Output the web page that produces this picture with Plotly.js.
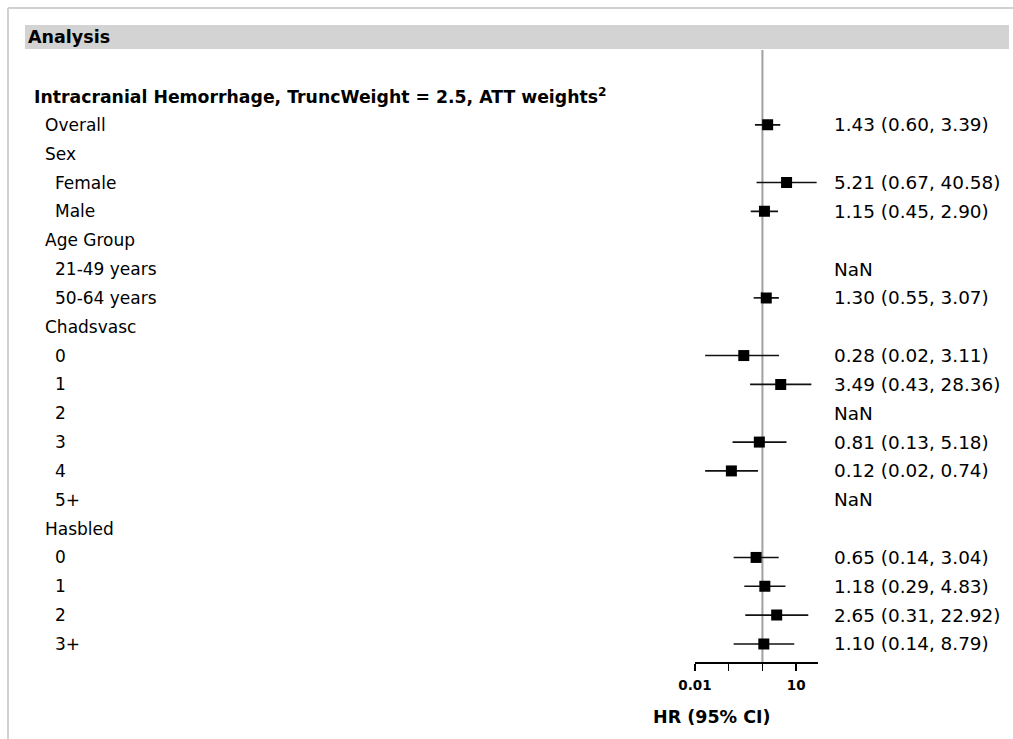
<!DOCTYPE html>
<html>
<head>
<meta charset="utf-8">
<script src="https://cdn.plot.ly/plotly-3.0.1.min.js"></script>
<style>html,body{margin:0;padding:0;background:#fff;}</style>
</head>
<body>
<div id="chart" style="width:1013px;height:739px;"></div>
<script>
// ---- data ----
const rowLabels = [
  "Intracranial Hemorrhage, TruncWeight = 2.5, ATT weights<sup>2</sup>",
  "Overall", "Sex", "Female", "Male",
  "Age Group", "21-49 years", "50-64 years",
  "Chadsvasc", "0", "1", "2", "3", "4", "5+",
  "Hasbled", "0", "1", "2", "3+"
];
const rowLevel = [0, 1, 1, 2, 2, 1, 2, 2, 1, 2, 2, 2, 2, 2, 2, 1, 2, 2, 2, 2];
const hr    = [null, 1.43, null, 5.21, 1.15, null, null, 1.30, null, 0.28, 3.49, null, 0.81, 0.12, null, null, 0.65, 1.18, 2.65, 1.10];
const lower = [null, 0.60, null, 0.67, 0.45, null, null, 0.55, null, 0.02, 0.43, null, 0.13, 0.02, null, null, 0.14, 0.29, 0.31, 0.14];
const upper = [null, 3.39, null, 40.58, 2.90, null, null, 3.07, null, 3.11, 28.36, null, 5.18, 0.74, null, null, 3.04, 4.83, 22.92, 8.79];
const estText = ["", "1.43 (0.60, 3.39)", "", "5.21 (0.67, 40.58)", "1.15 (0.45, 2.90)", "", "NaN", "1.30 (0.55, 3.07)", "",
  "0.28 (0.02, 3.11)", "3.49 (0.43, 28.36)", "NaN", "0.81 (0.13, 5.18)", "0.12 (0.02, 0.74)", "NaN", "",
  "0.65 (0.14, 3.04)", "1.18 (0.29, 4.83)", "2.65 (0.31, 22.92)", "1.10 (0.14, 8.79)"];
const labelTicks = [0.01, 10];
const labelTickText = ["0.01", "10"];
const minorTicks = [0.1, 1];

// ---- layout helpers (pixels) ----
const W = 1013, H = 739;
const px = x => x / W;
const py = y => 1 - y / H;
const FONT = "DejaVu Sans";

const rows = rowLabels.map((_, i) => i);
const plotRows = rows.filter(i => hr[i] !== null);

const trace = {
  type: "scatter",
  mode: "markers",
  x: plotRows.map(i => hr[i]),
  y: plotRows.map(i => i),
  marker: {symbol: "square", size: 11, color: "#000"},
  error_x: {
    type: "data", symmetric: false,
    array: plotRows.map(i => upper[i] - hr[i]),
    arrayminus: plotRows.map(i => hr[i] - lower[i]),
    color: "#111", thickness: 1.6, width: 0
  },
  hoverinfo: "skip",
  showlegend: false
};

const labelX = [32, 43, 53];
const annotations = [];
rows.forEach(i => {
  annotations.push({
    xref: "paper", yref: "y", x: px(labelX[rowLevel[i]]), y: i,
    xanchor: "left", yanchor: "middle", showarrow: false,
    text: rowLevel[i] === 0 ? "<b>" + rowLabels[i] + "</b>" : rowLabels[i],
    font: {family: FONT, size: rowLevel[i] === 0 ? 17.3 : 17, color: "#000"}
  });
  if (estText[i]) {
    annotations.push({
      xref: "paper", yref: "y", x: px(832), y: i,
      xanchor: "left", yanchor: "middle", showarrow: false,
      text: estText[i],
      font: {family: FONT, size: 18.4, color: "#000"}
    });
  }
});
annotations.push({
  xref: "paper", yref: "paper", x: px(26), y: py(37),
  xanchor: "left", yanchor: "middle", showarrow: false,
  text: "<b>Analysis</b>", font: {family: FONT, size: 17.5, color: "#000"}
});
annotations.push({
  xref: "paper", yref: "paper", x: px(712), y: py(717),
  xanchor: "center", yanchor: "middle", showarrow: false,
  text: "<b>HR (95% CI)</b>", font: {family: FONT, size: 17.5, color: "#000"}
});

const yTop = 50, yBot = 662;
const rowY0 = 96, rowStep = 28.84;
const layout = {
  width: W, height: H,
  margin: {l: 0, r: 0, t: 0, b: 0},
  paper_bgcolor: "#fff", plot_bgcolor: "rgba(0,0,0,0)",
  xaxis: {
    type: "log", range: [-2, 1.64],
    domain: [px(695), px(817.7)],
    tickvals: labelTicks, ticktext: labelTickText,
    ticks: "outside", ticklen: 7, tickwidth: 1.5, tickcolor: "#000",
    ticklabelstandoff: 3,
    minor: {tickvals: minorTicks, ticks: "outside", ticklen: 7, tickwidth: 1.5, tickcolor: "#000", showgrid: false},
    showline: true, linecolor: "#000", linewidth: 2,
    showgrid: false, zeroline: false,
    tickfont: {family: FONT, size: 13.5, color: "#000", weight: "bold"},
    anchor: "y"
  },
  yaxis: {
    range: [(yBot - rowY0) / rowStep, (yTop - rowY0) / rowStep],
    domain: [py(yBot), py(yTop)],
    showticklabels: false, showgrid: false, zeroline: false, showline: false, ticks: ""
  },
  shapes: [
    {type: "line", xref: "paper", yref: "paper", x0: px(8), x1: 1, y0: py(8), y1: py(8), line: {color: "#d0d0d0", width: 2}},
    {type: "line", xref: "paper", yref: "paper", x0: px(8), x1: px(8), y0: py(8), y1: 0, line: {color: "#d0d0d0", width: 2}},
    {type: "rect", xref: "paper", yref: "paper", x0: px(25), x1: px(1009), y0: py(49), y1: py(25), fillcolor: "#d3d3d3", line: {width: 0}},
    {type: "line", xref: "x", yref: "paper", x0: 1, x1: 1, y0: py(yBot), y1: py(yTop), line: {color: "#a0a0a0", width: 2}, layer: "below"}
  ],
  annotations: annotations,
  font: {family: FONT}
};

Plotly.newPlot("chart", [trace], layout, {displayModeBar: false, staticPlot: true});
</script>
</body>
</html>
